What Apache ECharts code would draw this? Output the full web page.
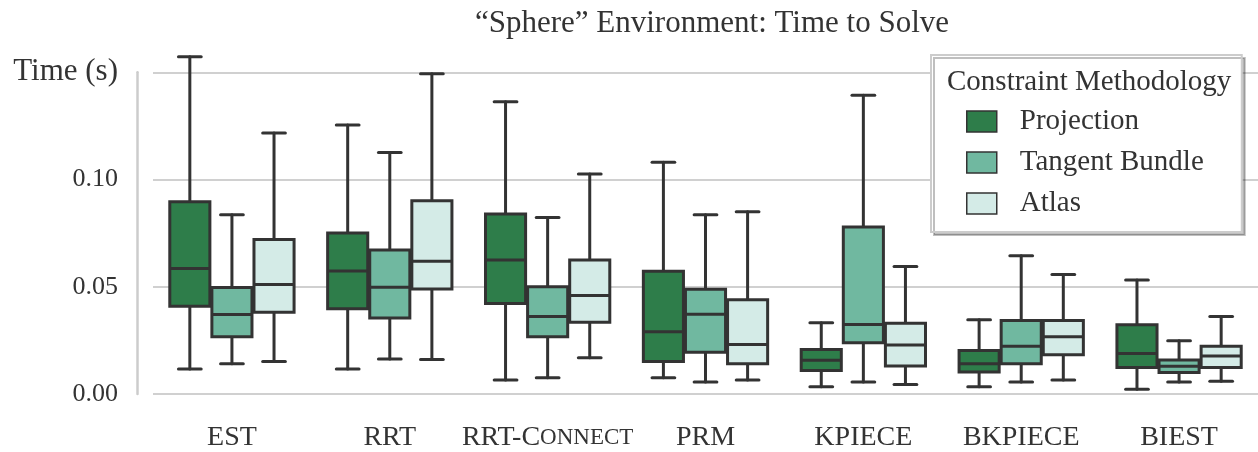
<!DOCTYPE html>
<html>
<head>
<meta charset="utf-8">
<script src="https://cdn.jsdelivr.net/npm/echarts@6/dist/echarts.min.js"></script>
<style>html,body{margin:0;padding:0;background:#fff}#chart{width:1258px;height:452px}</style>
</head>
<body>
<div id="chart"></div>
<script>
// ---- data (seconds): each entry is [min, Q1, median, Q3, max] per planner ----
const categories = ['EST', 'RRT', 'RRT-Connect', 'PRM', 'KPIECE', 'BKPIECE', 'BIEST'];
const seriesNames = ['Projection', 'Tangent Bundle', 'Atlas'];

const projection = [
  [0.0116, 0.0409, 0.0585, 0.0896, 0.1572],
  [0.0116, 0.0397, 0.0574, 0.0751, 0.1254],
  [0.0065, 0.0422, 0.0625, 0.0839, 0.1363],
  [0.0076, 0.0151, 0.0290, 0.0572, 0.1081],
  [0.0034, 0.0110, 0.0157, 0.0208, 0.0332],
  [0.0034, 0.0102, 0.0141, 0.0203, 0.0346],
  [0.0022, 0.0123, 0.0189, 0.0323, 0.0532]
];
const tangentBundle = [
  [0.0141, 0.0267, 0.0371, 0.0496, 0.0836],
  [0.0163, 0.0354, 0.0498, 0.0672, 0.1126],
  [0.0076, 0.0267, 0.0361, 0.0500, 0.0823],
  [0.0056, 0.0195, 0.0372, 0.0488, 0.0836],
  [0.0056, 0.0239, 0.0324, 0.0779, 0.1393],
  [0.0056, 0.0141, 0.0223, 0.0343, 0.0645],
  [0.0056, 0.0100, 0.0129, 0.0158, 0.0248]
];
const atlas = [
  [0.0151, 0.0381, 0.0510, 0.0720, 0.1217],
  [0.0161, 0.0490, 0.0619, 0.0901, 0.1493],
  [0.0169, 0.0335, 0.0459, 0.0625, 0.1026],
  [0.0065, 0.0141, 0.0231, 0.0440, 0.0850],
  [0.0044, 0.0130, 0.0228, 0.0330, 0.0594],
  [0.0065, 0.0183, 0.0267, 0.0343, 0.0557],
  [0.0060, 0.0123, 0.0177, 0.0223, 0.0361]
];
const yTicks = [0, 0.05, 0.10, 0.15];

const colors = ['#2e7d4a', '#70b8a0', '#d4ebe7'];
const edge = '#333333';
const FONT = 'Liberation Serif';

function makeRender(sIdx, fill) {
  return function (params, api) {
    const cat = api.value(0);
    const band = api.size([1, 0])[0];
    const w = band * 0.8 / 3;
    const cx = api.coord([cat, 0])[0] + (sIdx - 1) * w;
    const yMin = api.coord([cat, api.value(1)])[1];
    const yQ1 = api.coord([cat, api.value(2)])[1];
    const yMed = api.coord([cat, api.value(3)])[1];
    const yQ3 = api.coord([cat, api.value(4)])[1];
    const yMax = api.coord([cat, api.value(5)])[1];
    const half = w / 2 - 1;
    const cap = w * 0.27;
    const ls = { stroke: edge, lineWidth: 3, lineCap: 'round' };
    return {
      type: 'group',
      children: [
        { type: 'line', shape: { x1: cx, y1: yMax, x2: cx, y2: yQ3 }, style: ls },
        { type: 'line', shape: { x1: cx, y1: yQ1, x2: cx, y2: yMin }, style: ls },
        { type: 'line', shape: { x1: cx - cap, y1: yMax, x2: cx + cap, y2: yMax }, style: ls },
        { type: 'line', shape: { x1: cx - cap, y1: yMin, x2: cx + cap, y2: yMin }, style: ls },
        { type: 'rect', shape: { x: cx - half, y: yQ3, width: 2 * half, height: yQ1 - yQ3 },
          style: { fill: fill, stroke: edge, lineWidth: 3 } },
        { type: 'line', shape: { x1: cx - half, y1: yMed, x2: cx + half, y2: yMed }, style: { stroke: edge, lineWidth: 3 } }
      ]
    };
  };
}

const allData = [projection, tangentBundle, atlas];
const series = allData.map(function (arr, s) {
  return {
    name: seriesNames[s],
    type: 'custom',
    renderItem: makeRender(s, colors[s]),
    itemStyle: { color: colors[s] },
    encode: { x: 0, y: [1, 2, 3, 4, 5] },
    clip: false,
    data: arr.map(function (v, i) { return [i].concat(v); }),
    z: 3
  };
});

const chart = echarts.init(document.getElementById('chart'), null, { renderer: 'canvas' });
chart.setOption({
  animation: false,
  backgroundColor: '#ffffff',
  title: [
    { text: '\u201cSphere\u201d Environment: Time to Solve', left: 707, top: 3, textAlign: 'center',
      textStyle: { fontFamily: FONT, fontWeight: 'normal', fontSize: 31, color: '#333' } },
    { text: 'Constraint Methodology', left: 942, top: 63, z: 20,
      textStyle: { fontFamily: FONT, fontWeight: 'normal', fontSize: 29, color: '#333' } }
  ],
  legend: {
    orient: 'vertical', left: 931, top: 55,
    padding: [52, 38, 14, 35],
    itemWidth: 30, itemHeight: 21, itemGap: 12,
    icon: 'rect',
    backgroundColor: '#ffffff', borderColor: '#cccccc', borderWidth: 2,
    shadowColor: 'rgba(0,0,0,0.25)', shadowOffsetX: 3, shadowOffsetY: 3, shadowBlur: 0,
    itemStyle: { borderColor: edge, borderWidth: 1.5 },
    textStyle: { fontFamily: FONT, fontSize: 29, color: '#333', padding: [0, 0, 0, 18] },
    data: seriesNames,
    z: 10
  },
  grid: { left: 153, right: -2, top: 72.3, bottom: 57.3, containLabel: false },
  xAxis: {
    type: 'category', data: categories,
    axisLine: { show: false }, axisTick: { show: false }, splitLine: { show: false },
    axisLabel: {
      margin: 30, fontFamily: FONT, fontSize: 28, color: '#333', interval: 0,
      formatter: function (v) {
        if (v === 'RRT-Connect') return '{a|RRT-C}{b|ONNECT}';
        return v;
      },
      rich: {
        a: { fontFamily: FONT, fontSize: 28, color: '#333' },
        b: { fontFamily: FONT, fontSize: 23, color: '#333' }
      }
    }
  },
  yAxis: {
    type: 'value', min: yTicks[0], max: yTicks[yTicks.length - 1], interval: 0.05, offset: 16,
    axisLine: { show: true, lineStyle: { color: '#cccccc', width: 2.5 } },
    axisTick: { show: false },
    splitLine: { show: true, lineStyle: { color: '#d0d0d0', width: 2 } },
    axisLabel: {
      margin: 19, fontFamily: FONT, fontSize: 26, color: '#333',
      formatter: function (v) {
        if (Math.abs(v - 0.15) < 1e-9) return '{t|Time (s)}';
        return v.toFixed(2);
      },
      rich: { t: { fontFamily: FONT, fontSize: 31, color: '#333' } }
    }
  },
  series: series
});
</script>
</body>
</html>
